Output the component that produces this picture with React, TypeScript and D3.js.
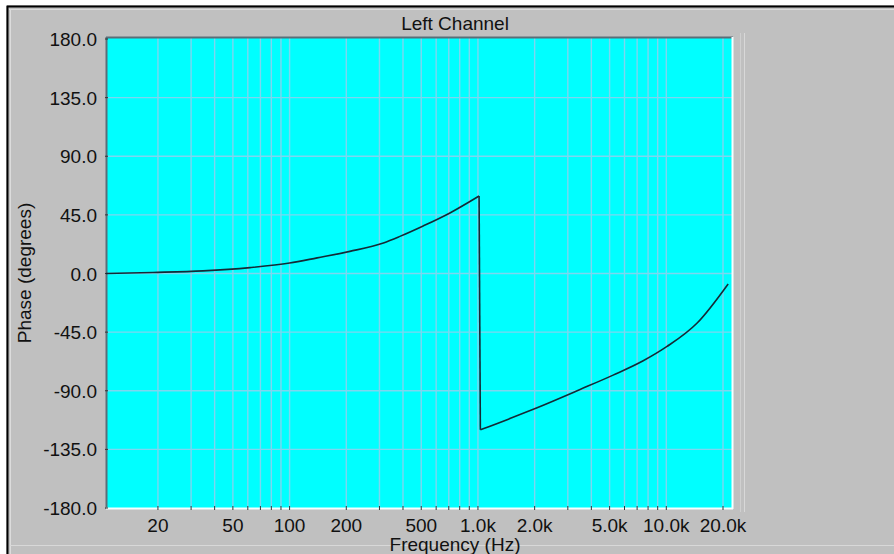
import React from "react";
import * as d3 from "d3";

// phase response (Hz, degrees)
const freqs = [10.6, 18.8, 34.7, 61.6, 100, 140, 209, 315, 385, 512, 710, 1014, 1030, 1500, 2061, 3486, 5220, 7540, 10090, 14580, 21300];
const phases = [0, 0.8, 2, 4.5, 8, 12, 17, 23.5, 28.5, 36.5, 46.5, 59.5, -120, -111, -103, -89, -78, -67, -56, -38, -8];

const xTicks = [20, 50, 100, 200, 500, 1000, 2000, 5000, 10000, 20000];
const xTickLabels = ["20", "50", "100", "200", "500", "1.0k", "2.0k", "5.0k", "10.0k", "20.0k"];
const yTicks = [180, 135, 90, 45, 0, -45, -90, -135, -180];

const W = 894;
const H = 554;
const FONT = "'Liberation Sans', Arial, sans-serif";

export default function App() {
  const left = 106, right = 733, top = 37, bottom = 509;

  const x = d3.scaleLog().domain([10.6, 22600]).range([left, right]);
  const y = d3.scaleLinear().domain([-180, 180]).range([508, 39]);

  // grid at 1..9 of every decade
  const minor: number[] = [];
  [10, 100, 1000, 10000].forEach((d) => {
    for (let k = 1; k < 10; k++) {
      const f = d * k;
      if (f > 10.6 && f < 22600) minor.push(f);
    }
  });

  const data = freqs.map((f, i) => ({ f, p: phases[i] }));
  // split at the phase wrap so the smooth curve keeps its sharp corners
  const cut = data.findIndex((d, i) => i > 0 && data[i - 1].p - d.p > 90);
  const before = data.slice(0, cut);
  const after = data.slice(cut);
  const jump = [data[cut - 1], data[cut]];

  const smooth = d3
    .line<{ f: number; p: number }>()
    .x((d) => x(d.f))
    .y((d) => y(d.p))
    .curve(d3.curveMonotoneX);
  const straight = d3
    .line<{ f: number; p: number }>()
    .x((d) => x(d.f))
    .y((d) => y(d.p));

  const gridColor = "#7ed6ef";

  return (
    <svg
      width={W}
      height={H}
      style={{ position: "absolute", left: 0, top: 0, display: "block" }}
      fontFamily={FONT}
    >
      <rect x={0} y={0} width={W} height={H} fill="#c0c0c0" />
      <rect x={0} y={0} width={W} height={5} fill="#ffffff" />
      <rect x={0} y={0} width={6} height={H} fill="#ffffff" />
      {/* window frame */}
      <line x1={7} x2={W} y1={6.5} y2={6.5} stroke="#000" strokeWidth={2} />
      <line x1={7.5} x2={7.5} y1={6} y2={H} stroke="#000" strokeWidth={2} />
      <line x1={9} x2={W} y1={9.5} y2={9.5} stroke="#dcdcdc" />
      <line x1={10.5} x2={10.5} y1={9} y2={H} stroke="#dcdcdc" />
      <line x1={10} x2={W} y1={545.5} y2={545.5} stroke="#d8d8d8" />
      <line x1={740.5} x2={740.5} y1={33} y2={512} stroke="#d0d0d0" />
      <line x1={744.5} x2={744.5} y1={33} y2={512} stroke="#d8d8d8" />

      {/* plot area */}
      <rect x={left} y={top} width={right - left} height={bottom - top} fill="#00ffff" />
      {minor.map((f) => (
        <line key={"gx" + f} x1={x(f)} x2={x(f)} y1={top} y2={bottom} stroke={gridColor} strokeWidth={1.4} />
      ))}
      {yTicks
        .filter((v) => v !== 180 && v !== -180)
        .map((v) => (
          <line key={"gy" + v} x1={left} x2={right} y1={y(v)} y2={y(v)} stroke={gridColor} strokeWidth={1.4} />
        ))}
      <line x1={left} x2={right} y1={top + 0.5} y2={top + 0.5} stroke="#5a6e78" strokeWidth={2} />
      <line x1={left + 0.5} x2={left + 0.5} y1={top} y2={bottom} stroke="#5a6e78" strokeWidth={2} />
      <line x1={left} x2={right} y1={bottom - 0.5} y2={bottom - 0.5} stroke="#f4ffff" strokeWidth={2} />
      <line x1={right - 0.5} x2={right - 0.5} y1={top} y2={bottom} stroke="#f4ffff" strokeWidth={2} />

      {/* ticks */}
      {minor.map((f) => (
        <line key={"tx" + f} x1={x(f)} x2={x(f)} y1={bottom - 3} y2={bottom + 1} stroke="#333" strokeWidth={1} />
      ))}
      {yTicks.map((v) => (
        <line key={"ty" + v} x1={left - 1} x2={left + 2} y1={y(v)} y2={y(v)} stroke="#333" strokeWidth={1} />
      ))}

      <g fill="none" stroke="#142a36" strokeWidth={1.6} strokeLinejoin="miter">
        <path d={smooth(before) || ""} />
        <path d={straight(jump) || ""} />
        <path d={smooth(after) || ""} />
      </g>

      {/* labels */}
      {yTicks.map((v) => (
        <text key={"ly" + v} x={97} y={y(v) + 7} textAnchor="end" fontSize={19} fill="#111">
          {v.toFixed(1)}
        </text>
      ))}
      {xTicks.map((f, i) => (
        <text key={"lx" + f} x={x(f)} y={532} textAnchor="middle" fontSize={19} fill="#111">
          {xTickLabels[i]}
        </text>
      ))}
      <text x={455} y={30} textAnchor="middle" fontSize={19} fill="#111">
        Left Channel
      </text>
      <text x={455} y={551} textAnchor="middle" fontSize={19} fill="#111">
        Frequency (Hz)
      </text>
      <text transform="translate(31,273) rotate(-90)" textAnchor="middle" fontSize={19} fill="#111">
        Phase (degrees)
      </text>
    </svg>
  );
}
